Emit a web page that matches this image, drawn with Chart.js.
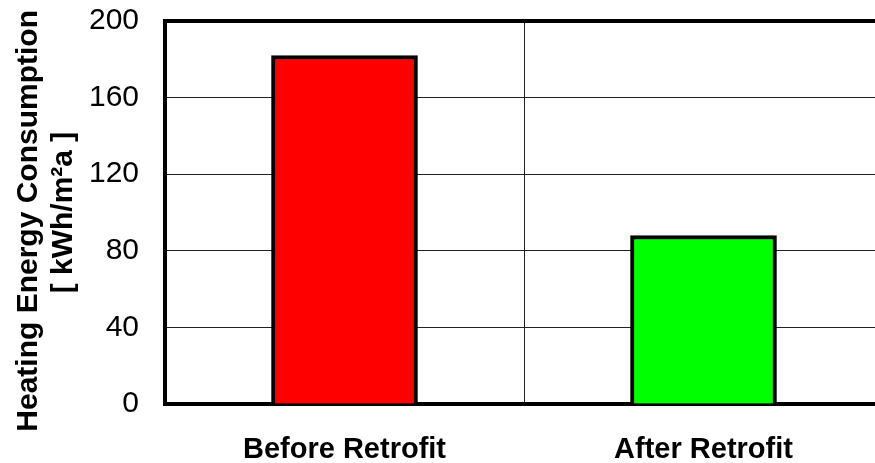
<!DOCTYPE html>
<html>
<head>
<meta charset="utf-8">
<script src="https://cdn.jsdelivr.net/npm/chart.js@4"></script>
<style>
  html, body { margin: 0; padding: 0; overflow: hidden; background: #fff; }
  canvas { display: block; }
</style>
</head>
<body>
<canvas id="chart" width="886" height="463"></canvas>
<script>
const categories = ['Before Retrofit', 'After Retrofit'];
const consumption = [182, 88];
const barColors = ['#ff0000', '#00ff00'];
const yTicks = [0, 40, 80, 120, 160, 200];

const FONT = "'Liberation Sans', Arial, sans-serif";

const config = {
  type: 'bar',
  data: {
    labels: categories,
    datasets: [{
      data: consumption,
      backgroundColor: barColors,
      borderColor: '#000',
      borderWidth: 4,
      borderSkipped: 'start',
      barThickness: 146
    }]
  },
  options: {
    responsive: false,
    animation: false,
    devicePixelRatio: 1,
    layout: { padding: { top: 21, right: 3, left: 0, bottom: 0 } },
    plugins: { legend: { display: false }, tooltip: { enabled: false } },
    scales: {
      x: {
        offset: true,
        grid: { offset: true, color: '#222', lineWidth: 1, drawTicks: false },
        border: { color: '#000', width: 4 },
        ticks: {
          color: '#000',
          padding: 29,
          font: { family: FONT, size: 29, weight: 'bold' }
        },
        afterFit: function (scale) { scale.height = 59; }
      },
      y: {
        min: 0,
        max: 200,
        afterBuildTicks: function (scale) {
          scale.ticks = yTicks.map(v => ({ value: v }));
        },
        grid: {
          drawTicks: true,
          tickLength: 26,
          tickColor: 'rgba(0,0,0,0)',
          color: ctx => ctx.tick && ctx.tick.value === 200 ? '#000' : '#222',
          lineWidth: ctx => ctx.tick && ctx.tick.value === 200 ? 4 : 1
        },
        border: { color: '#000', width: 4 },
        ticks: {
          color: '#000',
          padding: 0,
          font: { family: FONT, size: 30 }
        },
        title: {
          display: true,
          text: ['Heating Energy Consumption  ', '[ kWh/m\u00b2a ]'],
          color: '#000',
          font: { family: FONT, size: 30, weight: 'bold', lineHeight: 1.17 },
          padding: { top: 11, bottom: 0 }
        },
        afterFit: function (scale) { scale.width = 165; }
      }
    }
  }
};

new Chart(document.getElementById('chart'), config);
</script>
</body>
</html>
